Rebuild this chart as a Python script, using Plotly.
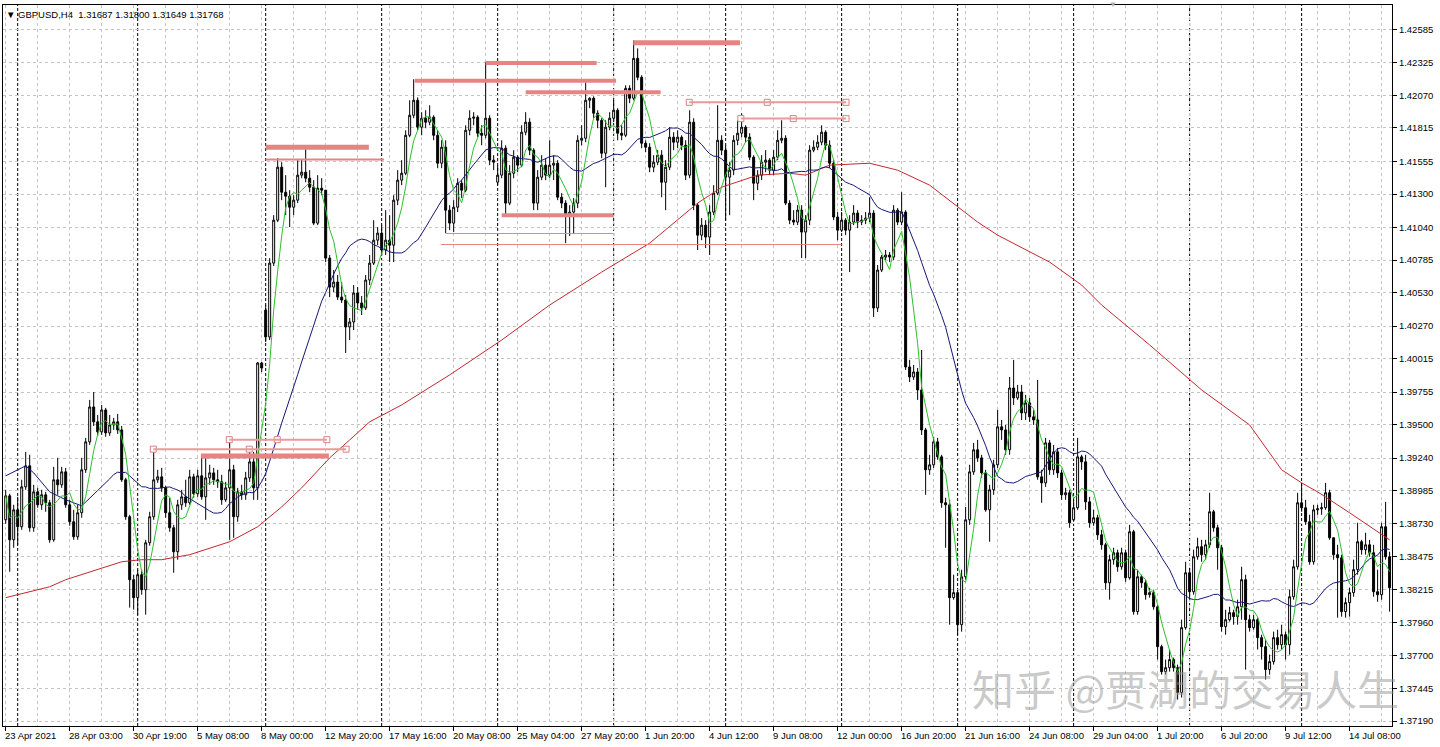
import plotly.graph_objects as go
import pandas as pd

# GBPUSD H4 candles, 23 Apr - 14 Jul 2021
opens = [
    1.38759, 1.38946, 1.38603, 1.38837, 1.38705, 1.39016, 1.39180, 1.38697, 1.38977, 1.38876,
    1.38954, 1.38892, 1.38603, 1.39071, 1.39032, 1.39133, 1.38876, 1.38744, 1.38627, 1.38814,
    1.39149, 1.39367, 1.39639, 1.39523, 1.39445, 1.39616, 1.39437, 1.39499, 1.39523, 1.39460,
    1.39071, 1.38783, 1.38292, 1.38152, 1.38331, 1.38214, 1.38580, 1.38783, 1.39071, 1.39094,
    1.39008, 1.38814, 1.38697, 1.38510, 1.38876, 1.38938, 1.38892, 1.39094, 1.38962, 1.39102,
    1.38938, 1.39086, 1.39125, 1.39071, 1.39055, 1.38915, 1.39008, 1.39149, 1.38783, 1.38977,
    1.38954, 1.39086, 1.39211, 1.39008, 1.39982, 1.40395, 1.40185, 1.40761, 1.41096, 1.41509,
    1.41314, 1.41283, 1.41197, 1.41252, 1.41447, 1.41470, 1.41423, 1.41353, 1.41073, 1.41345,
    1.41330, 1.40800, 1.40574, 1.40613, 1.40496, 1.40473, 1.40263, 1.40302, 1.40528, 1.40450,
    1.40411, 1.40629, 1.40761, 1.40940, 1.40995, 1.40863, 1.40940, 1.40901, 1.41252, 1.41408,
    1.41462, 1.41758, 1.41914, 1.42031, 1.41821, 1.41891, 1.41860, 1.41899, 1.41758, 1.41540,
    1.41665, 1.41174, 1.41073, 1.41197, 1.41384, 1.41330, 1.41797, 1.41891, 1.41899, 1.41774,
    1.41758, 1.41891, 1.41564, 1.41392, 1.41447, 1.41657, 1.41229, 1.41462, 1.41587, 1.41525,
    1.41782, 1.41860, 1.41642, 1.41229, 1.41431, 1.41525, 1.41447, 1.41525, 1.41540, 1.41275,
    1.41229, 1.41135, 1.41159, 1.41229, 1.41719, 1.41735, 1.42031, 1.42047, 1.41930, 1.41875,
    1.41618, 1.41821, 1.41891, 1.41953, 1.41774, 1.41758, 1.42124, 1.42047, 1.42358, 1.42210,
    1.41696, 1.41665, 1.41509, 1.41548, 1.41603, 1.41392, 1.41509, 1.41743, 1.41704, 1.41743,
    1.41680, 1.41447, 1.41860, 1.41213, 1.40979, 1.41057, 1.40964, 1.41159, 1.41307, 1.41719,
    1.41642, 1.41431, 1.41486, 1.41719, 1.41774, 1.41821, 1.41743, 1.41587, 1.41384, 1.41447,
    1.41548, 1.41564, 1.41486, 1.41587, 1.41719, 1.41735, 1.41229, 1.41096, 1.41081, 1.41174,
    1.41003, 1.41096, 1.41642, 1.41665, 1.41704, 1.41782, 1.41680, 1.41540, 1.41120, 1.41018,
    1.41096, 1.41018, 1.41081, 1.41151, 1.41081, 1.41096, 1.41112, 1.41151, 1.40411, 1.40707,
    1.40808, 1.40824, 1.40808, 1.41174, 1.41081, 1.41159, 1.39951, 1.39873, 1.39912, 1.39772,
    1.39460, 1.39149, 1.39188, 1.39367, 1.39250, 1.38892, 1.38876, 1.38152, 1.38191, 1.37941,
    1.38315, 1.38759, 1.39133, 1.39305, 1.39242, 1.39125, 1.38837, 1.38993, 1.39188, 1.39484,
    1.39460, 1.39305, 1.39787, 1.39710, 1.39756, 1.39593, 1.39671, 1.39562, 1.39538, 1.39094,
    1.39047, 1.39359, 1.39149, 1.39289, 1.39125, 1.38954, 1.38970, 1.38759, 1.38853, 1.39250,
    1.39211, 1.38899, 1.38736, 1.38775, 1.38642, 1.38564, 1.38268, 1.38448, 1.38502, 1.38393,
    1.38502, 1.38307, 1.38666, 1.38043, 1.38315, 1.38268, 1.38175, 1.38191, 1.38081, 1.37770,
    1.37575, 1.37606, 1.37669, 1.37606, 1.37412, 1.37918, 1.38346, 1.38198, 1.38471, 1.38549,
    1.38487, 1.38564, 1.38822, 1.38697, 1.38541, 1.37926, 1.37980, 1.38035, 1.38004, 1.38081,
    1.38292, 1.37980, 1.37918, 1.37980, 1.37840, 1.37770, 1.37591, 1.37653, 1.37840, 1.37785,
    1.37863, 1.37785, 1.38159, 1.38393, 1.38892, 1.38853, 1.38744, 1.38432, 1.38837, 1.38845,
    1.38853, 1.38970, 1.38619, 1.38487, 1.38463, 1.38043, 1.38113, 1.38191, 1.38370, 1.38588,
    1.38526, 1.38564, 1.38502, 1.38198, 1.38175, 1.38705, 1.38471,
]
highs = [
    1.38993, 1.38962, 1.38876, 1.38938, 1.39071, 1.39289, 1.39266, 1.39032, 1.39008, 1.38993,
    1.38977, 1.38915, 1.39172, 1.39242, 1.39172, 1.39164, 1.38915, 1.38837, 1.38876, 1.39242,
    1.39398, 1.39694, 1.39756, 1.39577, 1.39655, 1.39632, 1.39577, 1.39554, 1.39585, 1.39491,
    1.39086, 1.38798, 1.38331, 1.38370, 1.38370, 1.38603, 1.38822, 1.39328, 1.39149, 1.39164,
    1.39024, 1.38931, 1.38720, 1.38915, 1.38993, 1.39071, 1.39149, 1.39118, 1.39149, 1.39242,
    1.39266, 1.39188, 1.39164, 1.39149, 1.39110, 1.39055, 1.39406, 1.39188, 1.39008, 1.39032,
    1.39133, 1.39305, 1.39289, 1.39990, 1.39990, 1.40434, 1.40800, 1.41135, 1.41579, 1.41548,
    1.41447, 1.41330, 1.41291, 1.41564, 1.41571, 1.41657, 1.41486, 1.41408, 1.41447, 1.41423,
    1.41330, 1.40824, 1.40707, 1.40668, 1.40613, 1.40512, 1.40333, 1.40590, 1.40574, 1.40504,
    1.40668, 1.40824, 1.41096, 1.41042, 1.41057, 1.41174, 1.41135, 1.41291, 1.41486, 1.41564,
    1.41797, 1.42031, 1.42195, 1.42054, 1.41938, 1.41953, 1.41992, 1.41914, 1.41797, 1.41719,
    1.41719, 1.41213, 1.41252, 1.41423, 1.41408, 1.41836, 1.41953, 1.41938, 1.41914, 1.41836,
    1.42327, 1.41914, 1.41603, 1.41525, 1.41719, 1.41680, 1.41525, 1.41642, 1.41603, 1.41836,
    1.41938, 1.41891, 1.41657, 1.41486, 1.41603, 1.41579, 1.41719, 1.41603, 1.41564, 1.41307,
    1.41252, 1.41213, 1.41268, 1.41758, 1.41836, 1.42171, 1.42054, 1.42062, 1.41953, 1.41891,
    1.41875, 1.41938, 1.42031, 1.41969, 1.41836, 1.42148, 1.42148, 1.42498, 1.42436, 1.42226,
    1.41719, 1.41696, 1.41603, 1.41642, 1.41642, 1.41564, 1.41821, 1.41782, 1.41797, 1.41758,
    1.41719, 1.41953, 1.41891, 1.41229, 1.41112, 1.41096, 1.41213, 1.41369, 1.41992, 1.41758,
    1.41680, 1.41548, 1.41758, 1.41875, 1.41930, 1.41836, 1.41774, 1.41603, 1.41486, 1.41603,
    1.41642, 1.41579, 1.41642, 1.41797, 1.41875, 1.41758, 1.41252, 1.41174, 1.41213, 1.41213,
    1.41135, 1.41680, 1.41719, 1.41758, 1.41836, 1.41797, 1.41719, 1.41564, 1.41159, 1.41159,
    1.41112, 1.41135, 1.41213, 1.41174, 1.41135, 1.41159, 1.41275, 1.41174, 1.40746, 1.40824,
    1.40863, 1.40847, 1.41213, 1.41190, 1.41314, 1.41174, 1.40006, 1.39967, 1.39943, 1.40084,
    1.39476, 1.39266, 1.39406, 1.39398, 1.39266, 1.38931, 1.38915, 1.38331, 1.38214, 1.38370,
    1.38860, 1.39188, 1.39359, 1.39382, 1.39266, 1.39149, 1.39032, 1.39227, 1.39616, 1.39538,
    1.39499, 1.39873, 1.40006, 1.39811, 1.39811, 1.39733, 1.39710, 1.39616, 1.39850, 1.39149,
    1.39398, 1.39382, 1.39343, 1.39320, 1.39149, 1.39008, 1.38993, 1.38915, 1.39398, 1.39266,
    1.39266, 1.38938, 1.38837, 1.38798, 1.38681, 1.38580, 1.38487, 1.38541, 1.38526, 1.38541,
    1.38526, 1.38720, 1.38681, 1.38370, 1.38331, 1.38292, 1.38229, 1.38214, 1.38097, 1.37785,
    1.37669, 1.37747, 1.37684, 1.37630, 1.37980, 1.38432, 1.38385, 1.38526, 1.38619, 1.38603,
    1.38603, 1.38970, 1.38837, 1.38720, 1.38564, 1.38058, 1.38081, 1.38058, 1.38136, 1.38393,
    1.38331, 1.38019, 1.38019, 1.37996, 1.37863, 1.37824, 1.37708, 1.37887, 1.37902, 1.37941,
    1.37887, 1.38214, 1.38448, 1.38970, 1.39047, 1.38915, 1.38798, 1.38876, 1.38876, 1.38892,
    1.39047, 1.38993, 1.38619, 1.38564, 1.38487, 1.38152, 1.38229, 1.38448, 1.38736, 1.38603,
    1.38658, 1.38603, 1.38564, 1.38370, 1.38736, 1.38899, 1.38510,
]
lows = [
    1.38728, 1.38354, 1.38541, 1.38564, 1.38681, 1.38993, 1.38666, 1.38666, 1.38853, 1.38837,
    1.38822, 1.38580, 1.38588, 1.38954, 1.39008, 1.38853, 1.38712, 1.38603, 1.38603, 1.38775,
    1.39125, 1.39343, 1.39491, 1.39414, 1.39421, 1.39406, 1.39414, 1.39460, 1.39429, 1.39055,
    1.38759, 1.38074, 1.38058, 1.38019, 1.38175, 1.38019, 1.38557, 1.38759, 1.39047, 1.38977,
    1.38775, 1.38666, 1.38346, 1.38448, 1.38837, 1.38860, 1.38876, 1.38931, 1.38938, 1.38915,
    1.38759, 1.39032, 1.39032, 1.39008, 1.38876, 1.38899, 1.38603, 1.38619, 1.38744, 1.38915,
    1.38915, 1.39055, 1.38915, 1.38915, 1.39912, 1.40146, 1.40161, 1.40738, 1.41081, 1.41252,
    1.41135, 1.41042, 1.41135, 1.41229, 1.41423, 1.41392, 1.41314, 1.41057, 1.41057, 1.41291,
    1.40769, 1.40496, 1.40535, 1.40473, 1.40450, 1.40060, 1.40161, 1.40239, 1.40395, 1.40356,
    1.40395, 1.40590, 1.40746, 1.40901, 1.40824, 1.40824, 1.40769, 1.40769, 1.41213, 1.41369,
    1.41447, 1.41743, 1.41891, 1.41797, 1.41758, 1.41813, 1.41836, 1.41719, 1.41501, 1.41501,
    1.40995, 1.41018, 1.41003, 1.41159, 1.41268, 1.41314, 1.41758, 1.41836, 1.41743, 1.41680,
    1.41735, 1.41525, 1.41486, 1.41369, 1.41423, 1.41135, 1.41213, 1.41423, 1.41470, 1.41509,
    1.41758, 1.41603, 1.41174, 1.41174, 1.41408, 1.41408, 1.41423, 1.41408, 1.41252, 1.41190,
    1.40917, 1.40972, 1.40995, 1.41190, 1.41680, 1.41704, 1.41969, 1.41891, 1.41813, 1.41579,
    1.41353, 1.41797, 1.41860, 1.41719, 1.41719, 1.41743, 1.42008, 1.42031, 1.42187, 1.41657,
    1.41626, 1.41470, 1.41470, 1.41525, 1.41275, 1.41174, 1.41486, 1.41642, 1.41657, 1.41642,
    1.41408, 1.41423, 1.41174, 1.40863, 1.40940, 1.40878, 1.40824, 1.41135, 1.41291, 1.41603,
    1.41096, 1.41135, 1.41447, 1.41680, 1.41743, 1.41704, 1.41564, 1.41252, 1.41330, 1.41408,
    1.41470, 1.41447, 1.41447, 1.41564, 1.41696, 1.41213, 1.41065, 1.41057, 1.41057, 1.40800,
    1.40800, 1.41057, 1.41626, 1.41642, 1.41680, 1.41642, 1.41501, 1.41096, 1.40940, 1.41003,
    1.40979, 1.40691, 1.41057, 1.41034, 1.41057, 1.41065, 1.41081, 1.40341, 1.40380, 1.40691,
    1.40785, 1.40769, 1.40785, 1.41057, 1.41057, 1.39928, 1.39834, 1.39850, 1.39694, 1.39421,
    1.38954, 1.39110, 1.39164, 1.39227, 1.38853, 1.38541, 1.37941, 1.38136, 1.37863, 1.37887,
    1.38292, 1.38720, 1.39110, 1.39211, 1.39086, 1.38822, 1.38588, 1.38954, 1.39164, 1.39382,
    1.39266, 1.39266, 1.39655, 1.39694, 1.39538, 1.39538, 1.39523, 1.39499, 1.39071, 1.38892,
    1.39016, 1.39110, 1.39110, 1.39086, 1.38915, 1.38915, 1.38697, 1.38744, 1.38837, 1.39149,
    1.38837, 1.38697, 1.38712, 1.38603, 1.38526, 1.38214, 1.38136, 1.38409, 1.38354, 1.38370,
    1.38276, 1.38292, 1.38019, 1.38019, 1.38229, 1.38136, 1.38152, 1.38058, 1.37669, 1.37552,
    1.37552, 1.37575, 1.37575, 1.37357, 1.37373, 1.37902, 1.38136, 1.38175, 1.38448, 1.38432,
    1.38448, 1.38541, 1.38666, 1.38370, 1.37887, 1.37863, 1.37965, 1.37941, 1.37941, 1.37980,
    1.37591, 1.37887, 1.37902, 1.37747, 1.37669, 1.37513, 1.37552, 1.37630, 1.37747, 1.37747,
    1.37669, 1.37708, 1.38136, 1.38370, 1.38822, 1.38720, 1.38409, 1.38409, 1.38798, 1.38798,
    1.38837, 1.38603, 1.38448, 1.37996, 1.38004, 1.37996, 1.38004, 1.38159, 1.38331, 1.38487,
    1.38487, 1.38471, 1.38159, 1.38120, 1.38136, 1.38448, 1.38043,
]
closes = [
    1.38946, 1.38603, 1.38837, 1.38705, 1.39016, 1.39180, 1.38697, 1.38977, 1.38876, 1.38954,
    1.38892, 1.38603, 1.39071, 1.39032, 1.39133, 1.38876, 1.38744, 1.38627, 1.38814, 1.39149,
    1.39367, 1.39639, 1.39523, 1.39445, 1.39616, 1.39437, 1.39499, 1.39523, 1.39460, 1.39071,
    1.38783, 1.38292, 1.38152, 1.38331, 1.38214, 1.38580, 1.38783, 1.39071, 1.39094, 1.39008,
    1.38814, 1.38697, 1.38510, 1.38876, 1.38938, 1.38892, 1.39094, 1.38962, 1.39102, 1.38938,
    1.39086, 1.39125, 1.39071, 1.39055, 1.38915, 1.39008, 1.39149, 1.38783, 1.38977, 1.38954,
    1.39086, 1.39211, 1.39008, 1.39982, 1.39943, 1.40185, 1.40761, 1.41096, 1.41509, 1.41314,
    1.41283, 1.41197, 1.41252, 1.41447, 1.41470, 1.41423, 1.41353, 1.41073, 1.41345, 1.41330,
    1.40800, 1.40574, 1.40613, 1.40496, 1.40473, 1.40263, 1.40302, 1.40528, 1.40450, 1.40411,
    1.40629, 1.40761, 1.40940, 1.40995, 1.40863, 1.40940, 1.40901, 1.41252, 1.41408, 1.41462,
    1.41758, 1.41914, 1.42031, 1.41821, 1.41891, 1.41860, 1.41899, 1.41758, 1.41540, 1.41665,
    1.41174, 1.41073, 1.41197, 1.41384, 1.41330, 1.41797, 1.41891, 1.41899, 1.41774, 1.41758,
    1.41891, 1.41564, 1.41548, 1.41447, 1.41657, 1.41229, 1.41462, 1.41587, 1.41525, 1.41782,
    1.41860, 1.41642, 1.41229, 1.41431, 1.41525, 1.41447, 1.41525, 1.41540, 1.41275, 1.41229,
    1.41135, 1.41159, 1.41229, 1.41719, 1.41735, 1.42031, 1.42047, 1.41930, 1.41875, 1.41618,
    1.41821, 1.41891, 1.41953, 1.41774, 1.41758, 1.42124, 1.42047, 1.42358, 1.42210, 1.41696,
    1.41665, 1.41509, 1.41548, 1.41603, 1.41392, 1.41509, 1.41743, 1.41704, 1.41743, 1.41680,
    1.41447, 1.41860, 1.41213, 1.40979, 1.41057, 1.40964, 1.41159, 1.41307, 1.41719, 1.41642,
    1.41431, 1.41486, 1.41719, 1.41774, 1.41821, 1.41743, 1.41587, 1.41384, 1.41447, 1.41548,
    1.41564, 1.41486, 1.41587, 1.41719, 1.41735, 1.41229, 1.41096, 1.41081, 1.41174, 1.41003,
    1.41096, 1.41642, 1.41665, 1.41704, 1.41782, 1.41680, 1.41540, 1.41120, 1.41018, 1.41096,
    1.41018, 1.41081, 1.41151, 1.41081, 1.41096, 1.41112, 1.41151, 1.40411, 1.40707, 1.40808,
    1.40824, 1.40808, 1.41174, 1.41081, 1.41159, 1.39951, 1.39873, 1.39912, 1.39772, 1.39460,
    1.39149, 1.39188, 1.39367, 1.39250, 1.38892, 1.38876, 1.38152, 1.38191, 1.37941, 1.38315,
    1.38759, 1.39133, 1.39305, 1.39242, 1.39125, 1.38837, 1.38993, 1.39188, 1.39484, 1.39460,
    1.39305, 1.39787, 1.39710, 1.39756, 1.39593, 1.39671, 1.39562, 1.39538, 1.39094, 1.39047,
    1.39359, 1.39149, 1.39289, 1.39125, 1.38954, 1.38970, 1.38736, 1.38853, 1.39250, 1.39211,
    1.38899, 1.38736, 1.38775, 1.38642, 1.38564, 1.38268, 1.38448, 1.38502, 1.38393, 1.38502,
    1.38307, 1.38666, 1.38043, 1.38315, 1.38268, 1.38175, 1.38191, 1.38081, 1.37770, 1.37575,
    1.37606, 1.37669, 1.37606, 1.37412, 1.37918, 1.38346, 1.38198, 1.38471, 1.38549, 1.38487,
    1.38564, 1.38822, 1.38697, 1.38541, 1.37926, 1.37980, 1.38035, 1.38004, 1.38081, 1.38292,
    1.37980, 1.37918, 1.37980, 1.37840, 1.37770, 1.37591, 1.37653, 1.37840, 1.37785, 1.37863,
    1.37785, 1.38159, 1.38393, 1.38892, 1.38853, 1.38744, 1.38432, 1.38837, 1.38845, 1.38853,
    1.38970, 1.38619, 1.38487, 1.38463, 1.38043, 1.38113, 1.38191, 1.38370, 1.38588, 1.38526,
    1.38564, 1.38502, 1.38198, 1.38175, 1.38705, 1.38471, 1.38229,
]
bars = list(range(len(closes)))

date_labels = [
    "23 Apr 2021", "28 Apr 03:00", "30 Apr 19:00", "5 May 08:00", "8 May 00:00",
    "12 May 20:00", "17 May 16:00", "20 May 08:00", "25 May 04:00", "27 May 20:00",
    "1 Jun 20:00", "4 Jun 12:00", "9 Jun 08:00", "12 Jun 00:00", "16 Jun 20:00",
    "21 Jun 16:00", "24 Jun 08:00", "29 Jun 04:00", "1 Jul 20:00", "6 Jul 20:00",
    "9 Jul 12:00", "14 Jul 08:00",
]
bars_per_label = 16

price_ticks = [
    1.42585, 1.42325, 1.42070, 1.41815, 1.41555, 1.41300, 1.41040, 1.40785, 1.40530, 1.40270, 1.40015,
    1.39755, 1.39500, 1.39240, 1.38985, 1.38730, 1.38475, 1.38215, 1.37960, 1.37700, 1.37445, 1.37190,
]

# first bar of each trading week (period separators)
week_starts = [3, 33, 65, 94, 123, 152, 180, 209, 238, 267, 296, 324]

# long moving average (red), read at sample bars
red_ma_bars = [0, 11, 15, 24, 29, 34, 39, 46, 56, 63, 69, 74, 81, 86, 91, 99, 111, 124, 136, 149,
               154, 161, 173, 179, 188, 196, 200, 206, 216, 223, 231, 238, 243, 248, 261, 269, 274,
               286, 299, 311, 319, 324, 328, 336, 343, 346]
red_ma_vals = [1.38152, 1.38237, 1.38292, 1.38385, 1.38432, 1.38448, 1.38448, 1.38487, 1.38588,
               1.38705, 1.38860, 1.39008, 1.39242, 1.39382, 1.39523, 1.39655, 1.39889, 1.40161,
               1.40434, 1.40691, 1.40785, 1.40917, 1.41229, 1.41353, 1.41447, 1.41462, 1.41447,
               1.41525, 1.41540, 1.41486, 1.41369, 1.41197, 1.41081, 1.40979, 1.40769, 1.40590,
               1.40434, 1.40123, 1.39772, 1.39499, 1.39149, 1.39047, 1.38977, 1.38814, 1.38666,
               1.38603]

# medium MA (blue) before 24 bars of history are on the chart
blue_head_bars = [0, 5, 7, 11, 15, 19]
blue_head_vals = [1.39102, 1.39180, 1.39125, 1.38977, 1.38915, 1.38868]

# horizontal line objects: price, from bar, to bar
level_prices = [1.41664, 1.41570, 1.42480, 1.42321, 1.42184, 1.42094, 1.41134, 1.40992, 1.40906, 1.39256]
level_from = [65, 65, 156.9, 120, 102.3, 130, 124, 110, 108.8, 48.8]
level_to = [90.8, 94.6, 183.6, 147.75, 152.6, 163.75, 151.9, 151.9, 209, 80.8]
level_widths = [5, 2, 5, 4, 4, 4, 4, 1, 1, 5]

# selected trendlines with anchor squares
trend_prices = [1.42015, 1.41888, 1.39310, 1.39384]
trend_from = [170.9, 183.8, 36.9, 55.9]
trend_mid = [190.4, 196.9, 60.9, 67.9]
trend_to = [210.1, 210.1, 85.1, 80.3]

SALMON = "#e68484"
GRID = "#c4c4c4"
FONT = "Liberation Sans"

close_s = pd.Series(closes)
green_ma = close_s.rolling(5, min_periods=1).mean()
blue_sma = close_s.rolling(24).mean()
blue_x = blue_head_bars + bars[23:]
blue_y = blue_head_vals + list(blue_sma[23:])

fig = go.Figure()

fig.add_trace(go.Candlestick(
    x=bars, open=opens, high=highs, low=lows, close=closes,
    increasing=dict(line=dict(color="black", width=1), fillcolor="white"),
    decreasing=dict(line=dict(color="black", width=1), fillcolor="black"),
    whiskerwidth=0, hoverinfo="skip", showlegend=False,
))

fig.add_trace(go.Scatter(x=red_ma_bars, y=red_ma_vals, mode="lines",
                         line=dict(color="#c4282e", width=1), hoverinfo="skip", showlegend=False))
fig.add_trace(go.Scatter(x=blue_x, y=blue_y, mode="lines",
                         line=dict(color="#16167a", width=1), hoverinfo="skip", showlegend=False))
fig.add_trace(go.Scatter(x=bars, y=green_ma, mode="lines",
                         line=dict(color="#2cc02c", width=1), hoverinfo="skip", showlegend=False))

# anchor squares of the selected trendlines
sq_x, sq_y = [], []
for p, a, m, b in zip(trend_prices, trend_from, trend_mid, trend_to):
    sq_x += [a, m, b]
    sq_y += [p, p, p]

shapes = []
for b in week_starts:
    shapes.append(dict(type="line", xref="x", yref="paper", x0=b, x1=b, y0=0, y1=1,
                       line=dict(color="black", width=1, dash="3px,2px"), layer="below"))
for p, a, b, w in zip(level_prices, level_from, level_to, level_widths):
    shapes.append(dict(type="line", xref="x", yref="y", x0=a, x1=b, y0=p, y1=p,
                       line=dict(color=SALMON, width=w), layer="above"))
for p, a, b in zip(trend_prices, trend_from, trend_to):
    shapes.append(dict(type="line", xref="x", yref="y", x0=a, x1=b, y0=p, y1=p,
                       line=dict(color="#eb9a9a", width=2), layer="above"))

fig.add_trace(go.Scatter(x=sq_x, y=sq_y, mode="markers",
                         marker=dict(symbol="square", size=6, color="white",
                                     line=dict(color="#d98080", width=1)),
                         hoverinfo="skip", showlegend=False))

annotations = []
for k, lab in enumerate(date_labels):
    annotations.append(dict(x=k * bars_per_label, y=0, xref="x", yref="paper", text=lab,
                            showarrow=False, xanchor="left", yanchor="top", xshift=-3, yshift=-2,
                            font=dict(family=FONT, size=9.5, color="black")))
annotations.append(dict(x=0, y=1, xref="paper", yref="paper",
                        text="\u25bc GBPUSD,H4  1.31687 1.31800 1.31649 1.31768",
                        showarrow=False, xanchor="left", yanchor="top", xshift=1, yshift=-2,
                        font=dict(family=FONT, size=9.5, color="black")))
annotations.append(dict(x=0.799, y=1, xref="paper", yref="paper", text="\u25bc",
                        showarrow=False, xanchor="center", yanchor="middle", yshift=1,
                        font=dict(family=FONT, size=8, color="#b0b0b0")))
annotations.append(dict(x=0.851, y=0.053, xref="paper", yref="paper",
                        text="知乎 @贾湖的交易人生", showarrow=False,
                        xanchor="center", yanchor="middle",
                        font=dict(family="Noto Sans CJK SC", size=42, color="rgba(150,150,150,0.5)")))

fig.update_layout(
    width=1440, height=747,
    margin=dict(l=3, r=48, t=5, b=21),
    paper_bgcolor="white", plot_bgcolor="white",
    shapes=shapes, annotations=annotations,
    showlegend=False,
    xaxis=dict(
        range=[-0.675, 346.6], rangeslider=dict(visible=False),
        tickmode="array", tickvals=[k * bars_per_label for k in range(len(date_labels))],
        showticklabels=False, ticks="outside", ticklen=4, tickcolor="black",
        showgrid=True, gridcolor=GRID, griddash="3px,3px", gridwidth=1,
        minor=dict(tickmode="linear", tick0=8, dtick=16, showgrid=True,
                   gridcolor=GRID, griddash="3px,3px", ticks=""),
        showline=True, linecolor="black", linewidth=1, mirror=True, zeroline=False,
    ),
    yaxis=dict(
        side="right", range=[1.37151, 1.42774],
        tickmode="array", tickvals=price_ticks, ticktext=[f"{v:.5f}" for v in price_ticks],
        ticks="outside", ticklen=4, tickcolor="black",
        tickfont=dict(family=FONT, size=9.5, color="black"),
        showgrid=True, gridcolor=GRID, griddash="3px,3px", gridwidth=1,
        showline=True, linecolor="black", linewidth=1, mirror=True, zeroline=False,
    ),
)

fig.write_html("out.html", config={"displayModeBar": False},
               post_script="document.body.style.margin='0';")
